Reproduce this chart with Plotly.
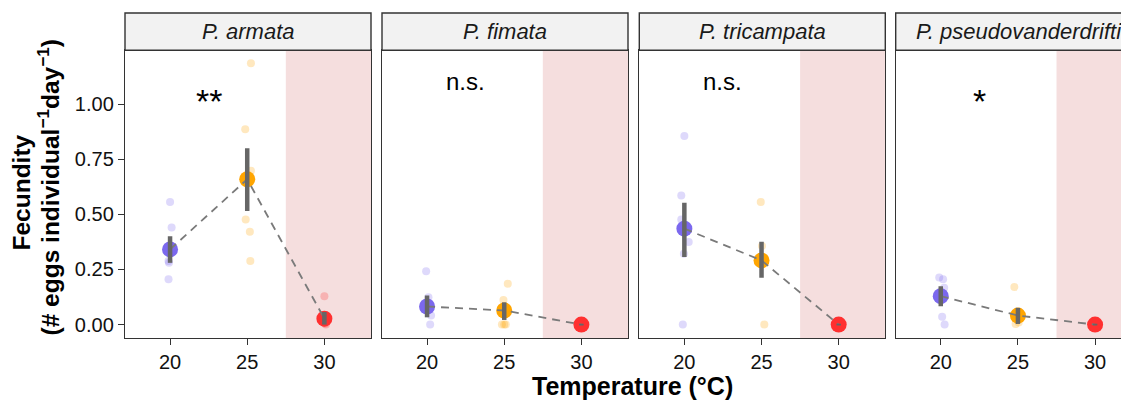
import plotly.graph_objects as go

# ---------------- data ----------------
species = ["P. armata", "P. fimata", "P. tricampata", "P. pseudovanderdrifti"]
temps = [20, 25, 30]
sig_labels = ["**", "n.s.", "n.s.", "*"]

mean_fec = [[0.341, 0.659, 0.027],
            [0.082, 0.064, 0.000],
            [0.435, 0.291, 0.000],
            [0.129, 0.041, 0.000]]
se_lo = [[0.280, 0.515, 0.000],
         [0.033, 0.021, -0.004],
         [0.306, 0.212, -0.004],
         [0.083, 0.003, -0.004]]
se_hi = [[0.401, 0.800, 0.057],
         [0.132, 0.101, 0.004],
         [0.553, 0.376, 0.004],
         [0.174, 0.076, 0.004]]

# individual replicates (jittered temperature, fecundity)
raw_x = [
    [[20.0, 20.1, 19.9, 19.93, 19.9], [25.24, 24.87, 25.24, 24.9, 25.17, 25.2], [30.0, 30.1, 29.95, 30.05]],
    [[19.94, 20.09, 20.26, 20.2], [25.23, 24.95, 24.85, 25.0, 25.1], [29.95, 30.05, 30.1]],
    [[20.0, 19.8, 19.8, 20.28, 19.97, 19.9], [24.95, 25.03, 25.18], [30.0, 30.1]],
    [[19.9, 20.15, 20.22, 20.09, 20.25], [24.77, 24.85, 25.05], [30.0, 29.95]],
]
raw_y = [
    [[0.556, 0.44, 0.288, 0.28, 0.206], [1.185, 0.886, 0.697, 0.476, 0.421, 0.288], [0.128, 0.0, 0.01, 0.005]],
    [[0.242, 0.124, 0.041, 0.0], [0.185, 0.112, 0.0, 0.0, 0.0], [0.0, 0.0, 0.0]],
    [[0.855, 0.585, 0.477, 0.374, 0.321, 0.0], [0.556, 0.356, 0.0], [0.0, 0.0]],
    [[0.214, 0.206, 0.167, 0.036, 0.0], [0.170, 0.003, 0.01], [0.0, 0.0]],
]

# ---------------- style / layout ----------------
temp_colors = ["#7B68EE", "#FFA500", "#FF3030"]
FONT = "Liberation Sans, Arial, sans-serif"
BORDER = "#333333"
OFF = 8                      # page body margin
W_FIG, H_FIG = 1140, 401
ML, MR, MT, MB = 117, 6, 5, 71
PW = W_FIG - ML - MR
PH = H_FIG - MT - MB
PLOT_BOTTOM = MT + PH + OFF  # screen pixel of panel bottom
DTOP = (PLOT_BOTTOM - 50.3) / PH
XR = [17.08, 33.02]
YR = [-0.0608, 1.2437]
panel_w = 246.0
panel_starts = [0.0, 257.0, 514.3, 770.7]


def px(screen_x):
    return (screen_x - OFF - ML) / PW


def py(screen_y):
    return (PLOT_BOTTOM - screen_y) / PH


fig = go.Figure()

for s in range(4):
    xa = "x" if s == 0 else f"x{s+1}"
    ya = "y" if s == 0 else f"y{s+1}"
    for t in range(3):
        fig.add_trace(go.Scatter(
            x=raw_x[s][t], y=raw_y[s][t], xaxis=xa, yaxis=ya, mode="markers",
            marker=dict(size=8, color=temp_colors[t], opacity=0.25, line=dict(width=0)),
            showlegend=False, hoverinfo="skip"))
    fig.add_trace(go.Scatter(
        x=temps, y=mean_fec[s], xaxis=xa, yaxis=ya, mode="markers",
        marker=dict(size=16, color=temp_colors, line=dict(width=0)),
        showlegend=False))
    fig.add_trace(go.Scatter(
        x=temps, y=mean_fec[s], xaxis=xa, yaxis=ya, mode="lines",
        line=dict(color="#7A7A7A", width=1.8, dash="8px,6px"),
        showlegend=False, hoverinfo="skip"))
    ex, ey = [], []
    for t in range(3):
        ex += [temps[t], temps[t], None]
        ey += [se_lo[s][t], se_hi[s][t], None]
    fig.add_trace(go.Scatter(
        x=ex, y=ey, xaxis=xa, yaxis=ya, mode="lines",
        line=dict(color="#666666", width=4.5),
        showlegend=False, hoverinfo="skip"))

shapes = []
annotations = []
for s in range(4):
    key = "" if s == 0 else str(s + 1)
    x0p = panel_starts[s] / PW
    x1p = min((panel_starts[s] + panel_w) / PW, 1.0)
    xmax = XR[0] + (x1p - x0p) * PW / panel_w * (XR[1] - XR[0])
    fig.layout[f"xaxis{key}"] = dict(
        domain=[x0p, x1p], range=[XR[0], xmax], anchor=f"y{key}",
        tickvals=temps, ticktext=[str(t) for t in temps],
        ticks="outside", ticklen=6, tickwidth=1.4, tickcolor=BORDER,
        showline=True, linecolor=BORDER, linewidth=1.4, mirror=True,
        showgrid=False, zeroline=False,
        tickfont=dict(family=FONT, size=20, color="#111111"))
    fig.layout[f"yaxis{key}"] = dict(
        domain=[0, DTOP], range=YR, anchor=f"x{key}",
        tickvals=[0, 0.25, 0.5, 0.75, 1.0],
        ticktext=["0.00", "0.25", "0.50", "0.75", "1.00"],
        ticks="outside" if s == 0 else "", ticklen=6, tickwidth=1.4, tickcolor=BORDER,
        showticklabels=(s == 0),
        showline=True, linecolor=BORDER, linewidth=1.4, mirror=True,
        showgrid=False, zeroline=False,
        tickfont=dict(family=FONT, size=20, color="#111111"))
    shapes.append(dict(type="rect", xref=f"x{key}", yref=f"y{key} domain",
                       x0=27.5, x1=xmax, y0=0, y1=1, layer="below",
                       fillcolor="#F5DEDE", line=dict(width=0)))
    shapes.append(dict(type="rect", xref="paper", yref="paper",
                       x0=x0p, x1=x1p, y0=DTOP, y1=1.0,
                       fillcolor="#F2F2F2", line=dict(color=BORDER, width=1.4)))
    annotations.append(dict(xref="paper", yref="paper",
                            x=(panel_starts[s] + panel_w / 2) / PW, y=(DTOP + 1) / 2,
                            text=f"<i>{species[s]}</i>", showarrow=False,
                            xanchor="center", yanchor="middle",
                            font=dict(family=FONT, size=22, color="#1A1A1A")))
    lab = sig_labels[s]
    if "*" in lab:
        annotations.append(dict(xref=f"x{key}", yref=f"y{key}", x=22.5, y=1.012,
                                text=lab, showarrow=False, xanchor="center", yanchor="middle",
                                font=dict(family=FONT, size=34, color="black")))
    else:
        annotations.append(dict(xref=f"x{key}", yref=f"y{key}", x=22.5, y=1.104,
                                text=lab, showarrow=False, xanchor="center", yanchor="middle",
                                font=dict(family=FONT, size=24, color="black")))

# axis titles
annotations.append(dict(xref="paper", yref="paper", x=px(632.5), y=py(385.5),
                        text="<b>Temperature (°C)</b>", showarrow=False,
                        xanchor="center", yanchor="middle",
                        font=dict(family=FONT, size=25, color="black")))
annotations.append(dict(xref="paper", yref="paper", x=px(20.5), y=py(193),
                        text="<b>Fecundity</b>",
                        showarrow=False, textangle=-90,
                        xanchor="center", yanchor="middle",
                        font=dict(family=FONT, size=24.5, color="black")))
annotations.append(dict(xref="paper", yref="paper", x=px(47.5), y=py(188),
                        text="<b>(# eggs individual<sup>−1</sup>day<sup>−1</sup>)</b>",
                        showarrow=False, textangle=-90,
                        xanchor="center", yanchor="middle",
                        font=dict(family=FONT, size=24.5, color="black")))

fig.update_layout(
    width=W_FIG, height=H_FIG,
    margin=dict(l=ML, r=MR, t=MT, b=MB),
    paper_bgcolor="white", plot_bgcolor="white",
    shapes=shapes, annotations=annotations, showlegend=False,
)

fig.write_html("out.html")
